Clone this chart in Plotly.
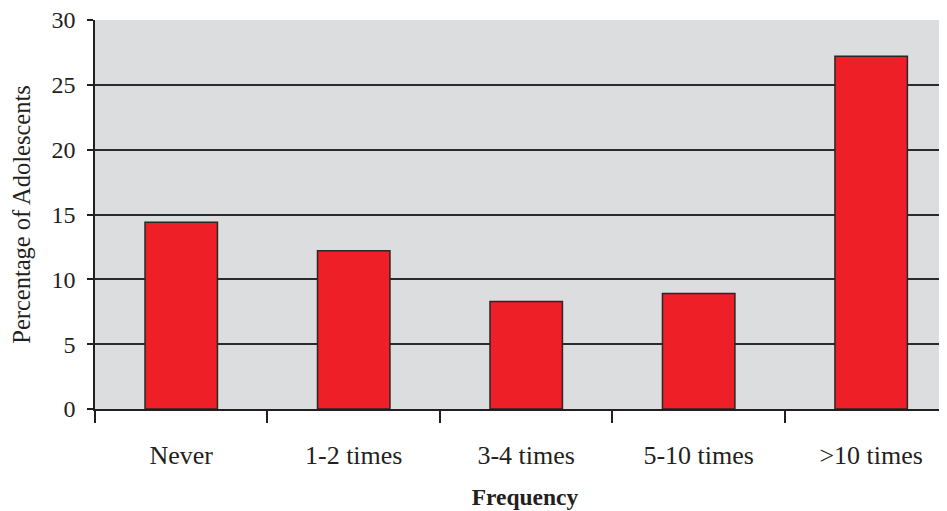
import plotly.graph_objects as go

categories = ["Never", "1-2 times", "3-4 times", "5-10 times", ">10 times"]
values = [14.4, 12.2, 8.3, 8.9, 27.2]
y_ticks = [0, 5, 10, 15, 20, 25, 30]

fig = go.Figure()
fig.add_trace(go.Bar(
    x=categories, y=values, width=0.42,
    marker=dict(color="#ee1f27", line=dict(color="#2b2526", width=1.5)),
))

fig.update_layout(
    width=947, height=511,
    margin=dict(l=87, r=0, t=12, b=110),
    paper_bgcolor="white", plot_bgcolor="#dcdddf",
    font=dict(family="Liberation Serif", color="#231f20", size=22),
    showlegend=False,
    bargap=0.58,
)
fig.update_xaxes(
    type="category", range=[-0.5, 4.486],
    tickson="boundaries", ticks="outside", ticklen=12, tickwidth=1.5, tickcolor="#231f20",
    showline=True, linecolor="#231f20", linewidth=1.5,
    showgrid=False, ticklabelstandoff=22, automargin=False,
    tickfont=dict(size=26),
    title=dict(text="<b>Frequency</b>", font=dict(size=23.5), standoff=20),
)
fig.update_yaxes(
    range=[0, 30], tickvals=y_ticks,
    ticks="outside", ticklen=6, tickwidth=1.5, tickcolor="#231f20",
    showline=True, linecolor="#231f20", linewidth=1.5, mirror=False,
    showgrid=True, gridcolor="#2b2b2b", gridwidth=1.5,
    zeroline=False, ticklabelstandoff=7, ticklabeloverflow="allow", automargin=False,
    tickfont=dict(size=24),
    title=dict(text="Percentage of Adolescents", font=dict(size=24.5), standoff=14),
)

fig.write_html("out.html")
